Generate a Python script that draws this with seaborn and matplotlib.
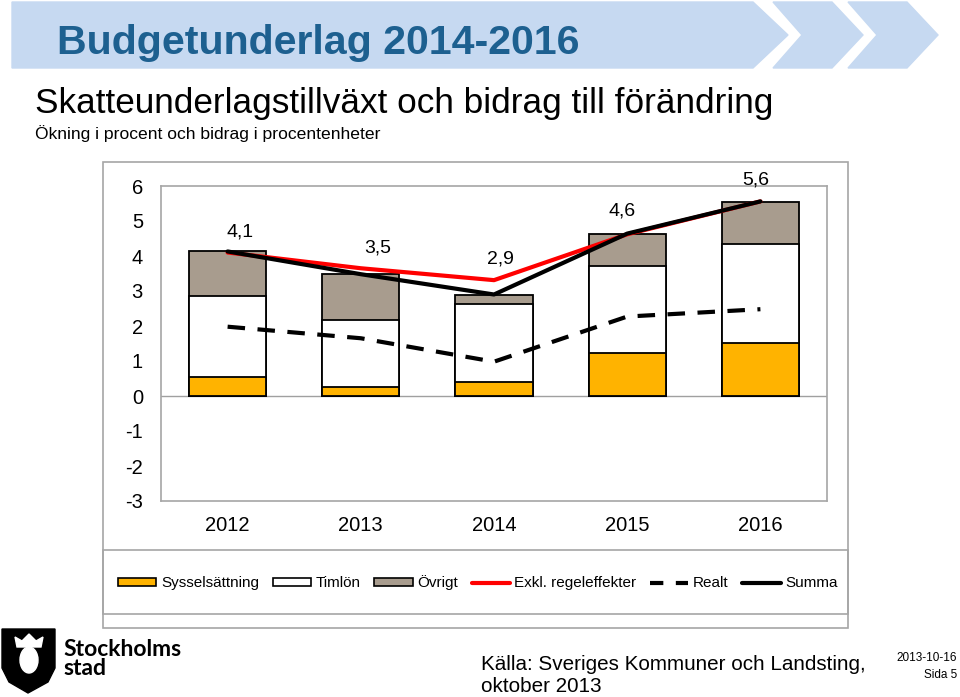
import numpy as np
import pandas as pd
import matplotlib
matplotlib.use("Agg")
import matplotlib.pyplot as plt
import seaborn as sns
from matplotlib.patches import Polygon, Rectangle, Patch, Ellipse
from matplotlib.lines import Line2D

# data
years = ["2012", "2013", "2014", "2015", "2016"]
sysselsattning = [0.55, 0.27, 0.39, 1.22, 1.51]
timlon = [2.31, 1.89, 2.23, 2.50, 2.84]
ovrigt = [1.28, 1.34, 0.28, 0.91, 1.20]
exkl_regel = [4.10, 3.65, 3.31, 4.62, 5.56]
realt = [1.98, 1.65, 0.98, 2.27, 2.48]
summa = [4.13, 3.48, 2.90, 4.64, 5.56]
yticks = list(range(-3, 7))

# label offsets (pixels) for the Summa data labels
label_dx = [12, 17, 6, -5, -5]
label_dy = [19, 26, 35, 23, 21]

sns.set_style("white")
plt.rcParams['font.family'] = ['Liberation Sans', 'DejaVu Sans']
plt.rcParams['text.color'] = 'black'
plt.rcParams['xtick.color'] = 'black'
plt.rcParams['ytick.color'] = 'black'

W, H = 960, 697
fig = plt.figure(figsize=(W / 100, H / 100), dpi=100)

def fx(px):
    return px / W

def fy(py):
    return 1 - py / H

# header banner and chevrons
blue = "#C6D9F1"
fig.add_artist(Polygon([(fx(12), fy(2)), (fx(753), fy(2)), (fx(788), fy(35)),
                        (fx(753), fy(68)), (fx(12), fy(68))],
                       closed=True, color=blue, transform=fig.transFigure))
for x0 in [773, 848]:
    fig.add_artist(Polygon([(fx(x0), fy(2)), (fx(x0 + 59), fy(2)), (fx(x0 + 90), fy(35)),
                            (fx(x0 + 59), fy(68)), (fx(x0), fy(68)), (fx(x0 + 29), fy(35))],
                           closed=True, color=blue, transform=fig.transFigure))

fig.text(fx(57), fy(54), "Budgetunderlag 2014-2016", fontsize=29.6, fontweight="bold",
         color="#1D6090", va="baseline")
fig.text(fx(35), fy(113), "Skatteunderlagstillväxt och bidrag till förändring",
         fontsize=25.3, va="baseline")
fig.text(fx(35), fy(139), "Ökning i procent och bidrag i procentenheter",
         fontsize=12.6, va="baseline")

# chart area and legend boxes
border = "#A6A6A6"
fig.add_artist(Rectangle((fx(103), fy(628)), fx(848) - fx(103), fy(162) - fy(628),
                         fill=False, edgecolor=border, lw=1.2, transform=fig.transFigure))
fig.add_artist(Rectangle((fx(103), fy(614)), fx(848) - fx(103), fy(550) - fy(614),
                         fill=False, edgecolor=border, lw=1.2, transform=fig.transFigure))

ax = fig.add_axes([fx(161), fy(501), fx(827) - fx(161), fy(186) - fy(501)])

orange = "#FFB300"
brown = "#A89C8E"
tot3 = np.array(sysselsattning) + np.array(timlon) + np.array(ovrigt)
tot2 = np.array(sysselsattning) + np.array(timlon)

ax.axhline(0, color="#A0A0A0", lw=1, zorder=0)
sns.barplot(x=years, y=tot3, color=brown, saturation=1, width=0.58,
            edgecolor="black", linewidth=1.3, ax=ax)
sns.barplot(x=years, y=tot2, color="white", saturation=1, width=0.58,
            edgecolor="black", linewidth=1.3, ax=ax)
sns.barplot(x=years, y=sysselsattning, color=orange, saturation=1, width=0.58,
            edgecolor="black", linewidth=1.3, ax=ax)

xs = np.arange(len(years))
sns.lineplot(x=xs, y=exkl_regel, color="#FF0000", lw=3, ax=ax)
sns.lineplot(x=xs, y=realt, color="black", lw=3, linestyle=(0, (4.2, 3.0)), ax=ax)
sns.lineplot(x=xs, y=summa, color="black", lw=3, ax=ax)

for i, v in enumerate(summa):
    ax.annotate(f"{v:.1f}".replace(".", ","), xy=(i, v),
                xytext=(label_dx[i], label_dy[i]), textcoords="offset pixels",
                ha="center", va="center", fontsize=14)

ax.set_xlim(-0.5, len(years) - 0.5)
ax.set_ylim(-3, 6)
ax.set_yticks(yticks)
ax.set_yticklabels([str(t) for t in yticks])
ax.set_xticks(xs)
ax.set_xticklabels(years)
ax.tick_params(axis="both", length=0, labelsize=14.5, labelcolor="black")
ax.tick_params(axis="y", pad=13)
ax.tick_params(axis="x", pad=11)
for s in ax.spines.values():
    s.set_visible(True)
    s.set_color(border)
    s.set_linewidth(1.2)
ax.set_xlabel("")
ax.set_ylabel("")

handles = [
    Patch(facecolor=orange, edgecolor="black", lw=1.2, label="Sysselsättning"),
    Patch(facecolor="white", edgecolor="black", lw=1.2, label="Timlön"),
    Patch(facecolor=brown, edgecolor="black", lw=1.2, label="Övrigt"),
    Line2D([], [], color="#FF0000", lw=3, label="Exkl. regeleffekter"),
    Line2D([], [], color="black", lw=3, linestyle=(0, (3.2, 3.0)), label="Realt"),
    Line2D([], [], color="black", lw=3, label="Summa"),
]
fig.legend(handles=handles, loc="center", bbox_to_anchor=(fx(478), fy(583)),
           ncol=6, frameon=False, fontsize=11, handlelength=2.5, handleheight=0.45,
           handletextpad=0.3, columnspacing=0.9, labelcolor="black")

# footer: logo and source
fig.add_artist(Polygon([(fx(2), fy(629)), (fx(55), fy(629)), (fx(55), fy(668)),
                        (fx(48), fy(682)), (fx(28), fy(693)), (fx(9), fy(682)),
                        (fx(2), fy(668))],
                       closed=True, color="black", transform=fig.transFigure))
fig.add_artist(Ellipse((fx(29), fy(660)), fx(18), fy(0) - fy(26), color="white",
                       transform=fig.transFigure))
fig.add_artist(Polygon([(fx(17), fy(647)), (fx(41), fy(647)), (fx(43), fy(637)),
                        (fx(36), fy(641)), (fx(29), fy(634)), (fx(22), fy(641)),
                        (fx(15), fy(637))],
                       closed=True, color="white", transform=fig.transFigure))
fig.text(fx(63), fy(656), "Stockholms", fontsize=16.5, fontweight="bold",
         family=["Lato", "DejaVu Sans"], va="baseline")
fig.text(fx(63), fy(675), "stad", fontsize=16.5, fontweight="bold",
         family=["Lato", "DejaVu Sans"], va="baseline")

fig.text(fx(481), fy(675), "Källa: Sveriges Kommuner och Landsting,\noktober 2013",
         fontsize=14.9, va="center", linespacing=1.2)
fig.text(fx(957), fy(658), "2013-10-16", fontsize=8.5, ha="right", va="center")
fig.text(fx(957), fy(675), "Sida 5", fontsize=8.5, ha="right", va="center")

fig.savefig("out.png", dpi=100)
